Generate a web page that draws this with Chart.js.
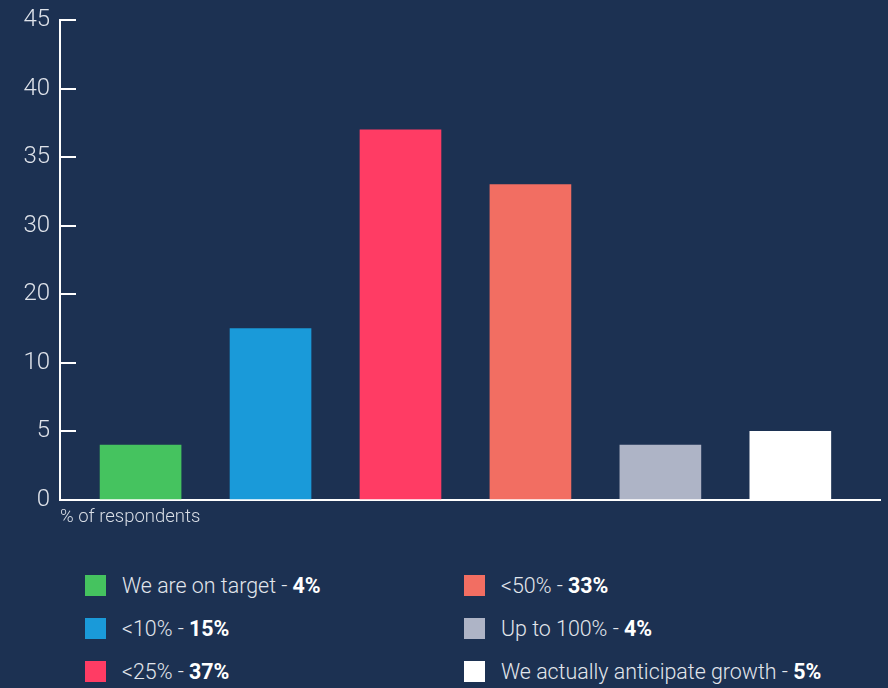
<!DOCTYPE html>
<html>
<head>
<meta charset="utf-8">
<title>Share of respondents</title>
<script src="https://cdn.jsdelivr.net/npm/chart.js@4.4.1/dist/chart.umd.min.js"></script>
<style>
  body { margin: 0; background: #1c3152; font-family: Roboto, "Noto Sans", sans-serif; }
  #wrap { position: relative; width: 888px; height: 688px; overflow: hidden; background: #1c3152; }
  #chart { position: absolute; left: 0; top: 0; }
  #legend {
    position: absolute; left: 85px; top: 575px;
    display: grid; grid-template-columns: 379px auto;
    grid-template-rows: repeat(3, 43px); grid-auto-flow: column;
  }
  .item { display: flex; align-items: center; height: 21px; color: #e2e6ec; font-size: 21.4px; font-weight: 300; white-space: nowrap; }
  .item .box { width: 21px; height: 21px; margin-right: 16px; flex: none; }
  .item b { font-weight: 700; color: #fff; }
</style>
</head>
<body>
<div id="wrap">
  <canvas id="chart" width="888" height="540"></canvas>
  <div id="legend"></div>
</div>
<script>
const categories = ["We are on target", "<10%", "<25%", "<50%", "Up to 100%", "We actually anticipate growth"];
const values = [4, 15, 37, 33, 4, 5];
const colors = ["#45c35f", "#1a9ad9", "#ff3c64", "#f26e62", "#aeb4c6", "#ffffff"];
const tickLabels = [0, 5, 10, 20, 30, 35, 40, 45];

// the y labels sit at equal spacing but jump by 5 or 10,
// so each value is placed between its two neighbouring labels
function toStep(v) {
  for (let i = 1; i < tickLabels.length; i++) {
    if (v <= tickLabels[i]) {
      const lo = tickLabels[i - 1], hi = tickLabels[i];
      return i - 1 + (v - lo) / (hi - lo);
    }
  }
  return tickLabels.length - 1;
}

const legend = document.getElementById('legend');
categories.forEach(function (name, i) {
  const item = document.createElement('div');
  item.className = 'item';
  const box = document.createElement('span');
  box.className = 'box';
  box.style.background = colors[i];
  const label = document.createElement('span');
  label.appendChild(document.createTextNode(name + ' - '));
  const pct = document.createElement('b');
  pct.textContent = values[i] + '%';
  label.appendChild(pct);
  item.appendChild(box);
  item.appendChild(label);
  legend.appendChild(item);
});

const ctx = document.getElementById('chart').getContext('2d');
new Chart(ctx, {
  type: 'bar',
  data: {
    datasets: [{
      data: values.map(function (v, i) { return { x: i, y: toStep(v) }; }),
      backgroundColor: colors,
      borderWidth: 0,
      barThickness: 81
    }]
  },
  options: {
    responsive: false,
    animation: false,
    layout: { padding: { top: 20, right: 8, left: 0, bottom: 0 } },
    plugins: {
      legend: { display: false },
      tooltip: { enabled: false }
    },
    scales: {
      x: {
        type: 'linear',
        offset: false,
        min: -0.62,
        max: 5.69,
        ticks: { display: false },
        grid: { display: false },
        border: { color: '#ffffff', width: 2 },
        title: {
          display: true,
          text: '% of respondents',
          align: 'start',
          color: '#d9dee6',
          font: { family: 'Roboto', size: 18.5, weight: '300' },
          padding: { top: 0, bottom: 12 }
        },
        afterFit: function (scale) {
          scale.height = 40;
          scale.paddingLeft = 0;
          scale.paddingRight = 0;
        }
      },
      y: {
        min: 0,
        max: tickLabels.length - 1,
        ticks: {
          stepSize: 1,
          padding: 26,
          color: '#dfe3ea',
          font: { family: 'Roboto', size: 24, weight: '300' },
          callback: function (v) { return tickLabels[v]; }
        },
        grid: { drawOnChartArea: false, color: '#ffffff', lineWidth: 2, tickLength: -16 },
        border: { color: '#ffffff', width: 2 },
        afterFit: function (scale) {
          scale.width = 60;
          scale.paddingTop = 0;
          scale.paddingBottom = 0;
        }
      }
    }
  }
});
</script>
</body>
</html>
